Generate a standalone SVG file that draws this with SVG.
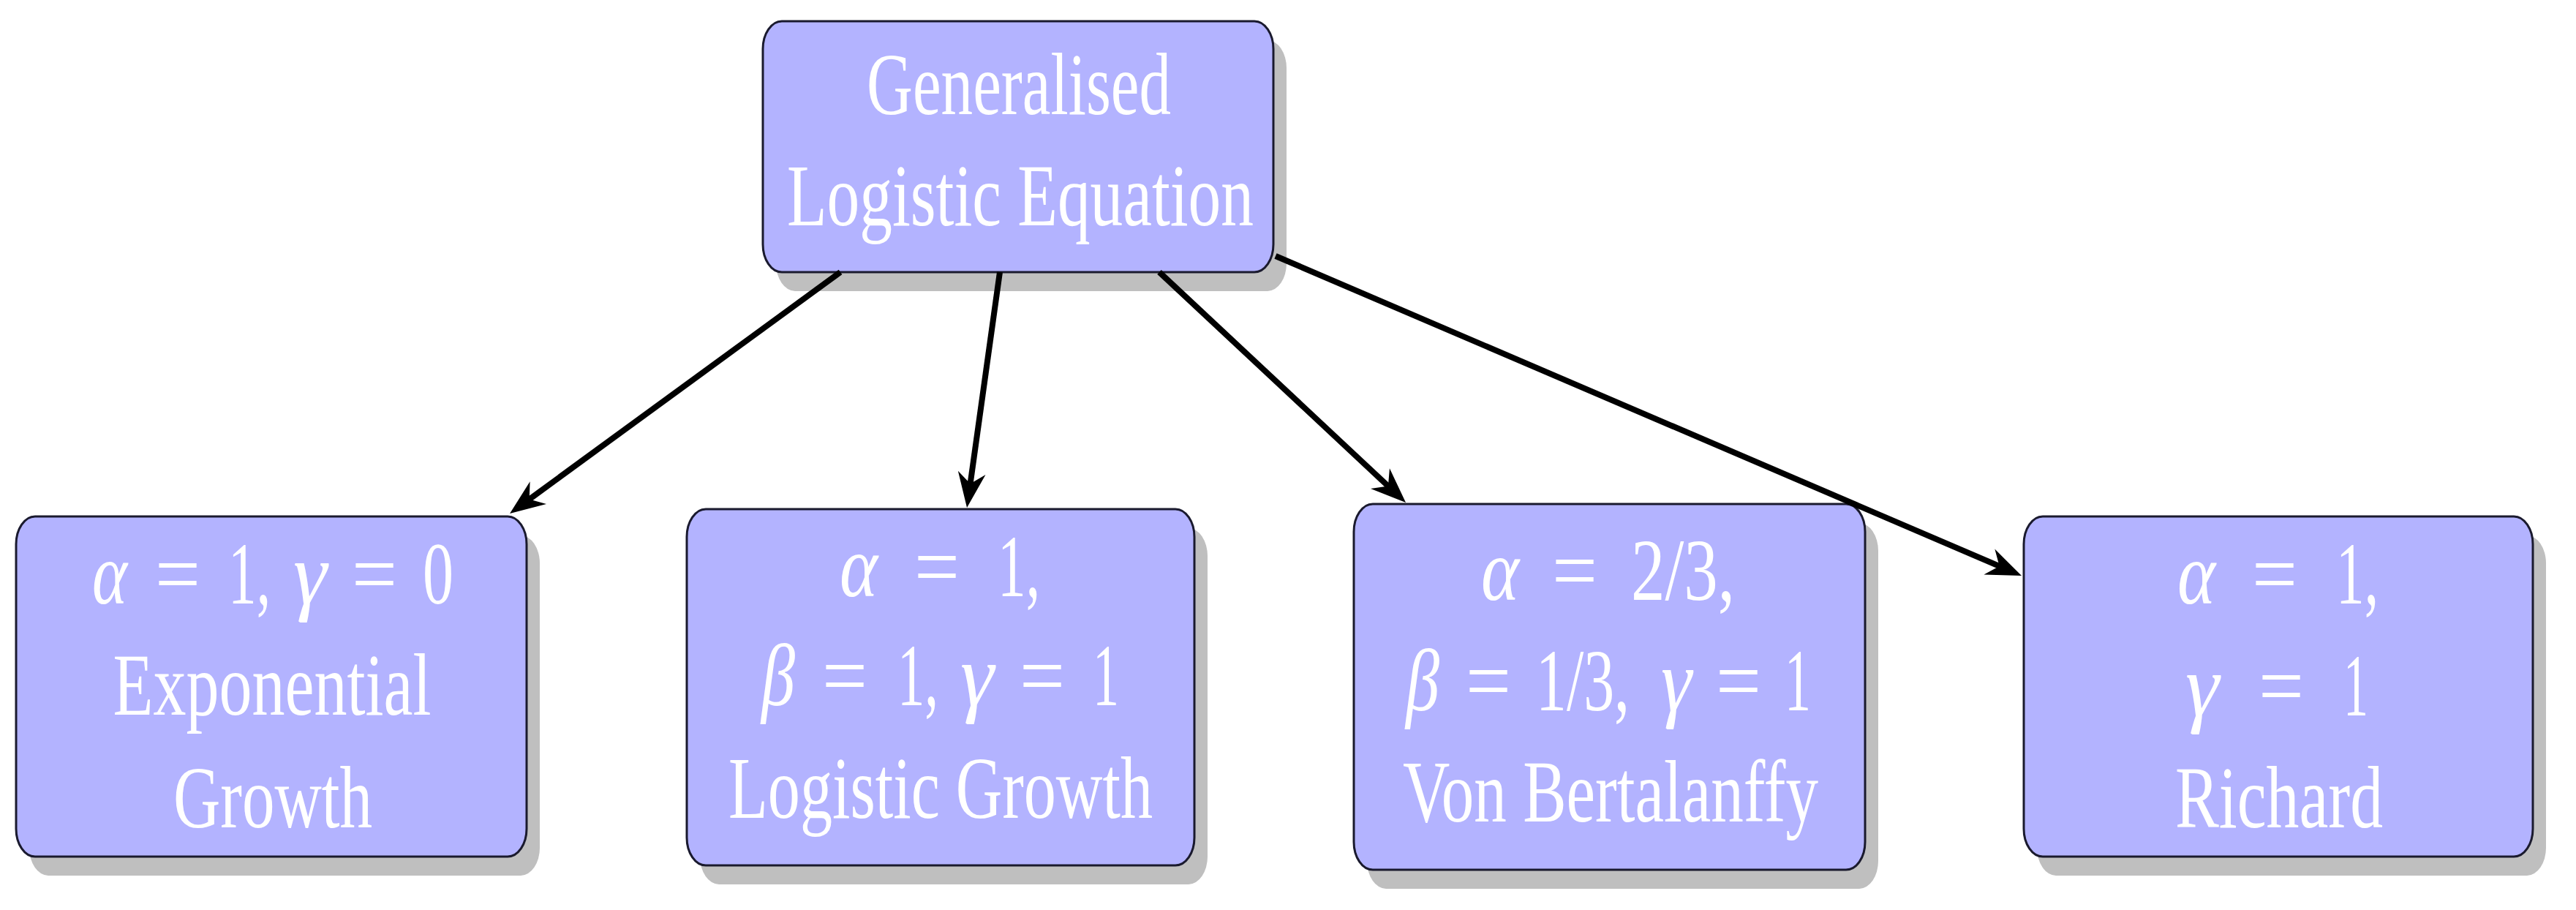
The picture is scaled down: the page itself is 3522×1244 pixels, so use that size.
<svg xmlns="http://www.w3.org/2000/svg" width="3522" height="1244" viewBox="0 0 3522 1244">
<style>
.shadow{fill:#bfbfbf;}
.box{fill:#b3b3ff;stroke:#1a1a2e;stroke-width:3;}
.t{font-family:"Liberation Serif","DejaVu Serif",serif;font-size:120px;fill:#ffffff;text-anchor:middle;}
.i{font-style:italic;}
.conn{stroke:#000;stroke-width:8;fill:none;marker-end:url(#head);}
</style>
<defs>
<marker id="head" viewBox="-70 -22 72 44" refX="-20" refY="0" markerWidth="72" markerHeight="44" markerUnits="userSpaceOnUse" orient="auto">
<path d="M0,0 L-48,-19 L-33,0 L-48,19 Z" fill="#000"/>
</marker>
</defs>
<rect width="3522" height="1244" fill="#ffffff"/>

<g id="node-top">
<rect class="shadow" x="1061" y="55" width="698" height="343" rx="26" ry="38"/>
<rect class="box" x="1043" y="29" width="698" height="343" rx="26" ry="38"/>
<text class="t" x="1393" y="156" textLength="416" lengthAdjust="spacingAndGlyphs">Generalised</text>
<text class="t" x="1395" y="308" textLength="638" lengthAdjust="spacingAndGlyphs">Logistic Equation</text>
</g>

<g id="node-exponential">
<rect class="shadow" x="40" y="732" width="698" height="465" rx="26" ry="38"/>
<rect class="box" x="22" y="706" width="698" height="465" rx="26" ry="38"/>
<text class="t i" x="150" y="825" textLength="48" lengthAdjust="spacingAndGlyphs">α</text>
<text class="t" x="243" y="825" textLength="62" lengthAdjust="spacingAndGlyphs">=</text>
<text class="t" x="341" y="825" textLength="58" lengthAdjust="spacingAndGlyphs">1,</text>
<text class="t i" x="424" y="825" textLength="46" lengthAdjust="spacingAndGlyphs">γ</text>
<text class="t" x="512" y="825" textLength="62" lengthAdjust="spacingAndGlyphs">=</text>
<text class="t" x="599" y="825" textLength="42" lengthAdjust="spacingAndGlyphs">0</text>
<text class="t" x="372" y="977" textLength="435" lengthAdjust="spacingAndGlyphs">Exponential</text>
<text class="t" x="373" y="1131" textLength="272" lengthAdjust="spacingAndGlyphs">Growth</text>
</g>

<g id="node-logistic">
<rect class="shadow" x="957" y="722" width="694" height="487" rx="26" ry="38"/>
<rect class="box" x="939" y="696" width="694" height="487" rx="26" ry="38"/>
<text class="t i" x="1174" y="815" textLength="52" lengthAdjust="spacingAndGlyphs">α</text>
<text class="t" x="1281" y="815" textLength="62" lengthAdjust="spacingAndGlyphs">=</text>
<text class="t" x="1393" y="815" textLength="58" lengthAdjust="spacingAndGlyphs">1,</text>
<text class="t i" x="1064" y="964" textLength="46" lengthAdjust="spacingAndGlyphs">β</text>
<text class="t" x="1155" y="964" textLength="62" lengthAdjust="spacingAndGlyphs">=</text>
<text class="t" x="1255" y="964" textLength="56" lengthAdjust="spacingAndGlyphs">1,</text>
<text class="t i" x="1336" y="964" textLength="46" lengthAdjust="spacingAndGlyphs">γ</text>
<text class="t" x="1425" y="964" textLength="62" lengthAdjust="spacingAndGlyphs">=</text>
<text class="t" x="1512" y="964" textLength="36" lengthAdjust="spacingAndGlyphs">1</text>
<text class="t" x="1286" y="1118" textLength="580" lengthAdjust="spacingAndGlyphs">Logistic Growth</text>
</g>

<g id="node-bertalanffy">
<rect class="shadow" x="1869" y="715" width="699" height="500" rx="26" ry="38"/>
<rect class="box" x="1851" y="689" width="699" height="500" rx="26" ry="38"/>
<text class="t i" x="2051" y="820" textLength="52" lengthAdjust="spacingAndGlyphs">α</text>
<text class="t" x="2153" y="820" textLength="62" lengthAdjust="spacingAndGlyphs">=</text>
<text class="t" x="2301" y="820" textLength="142" lengthAdjust="spacingAndGlyphs">2/3,</text>
<text class="t i" x="1945" y="971" textLength="46" lengthAdjust="spacingAndGlyphs">β</text>
<text class="t" x="2035" y="971" textLength="62" lengthAdjust="spacingAndGlyphs">=</text>
<text class="t" x="2164" y="971" textLength="128" lengthAdjust="spacingAndGlyphs">1/3,</text>
<text class="t i" x="2292" y="971" textLength="42" lengthAdjust="spacingAndGlyphs">γ</text>
<text class="t" x="2377" y="971" textLength="62" lengthAdjust="spacingAndGlyphs">=</text>
<text class="t" x="2458" y="971" textLength="36" lengthAdjust="spacingAndGlyphs">1</text>
<text class="t" x="2202" y="1123" textLength="568" lengthAdjust="spacingAndGlyphs">Von Bertalanffy</text>
</g>

<g id="node-richard">
<rect class="shadow" x="2785" y="732" width="696" height="465" rx="26" ry="38"/>
<rect class="box" x="2767" y="706" width="696" height="465" rx="26" ry="38"/>
<text class="t i" x="3003" y="825" textLength="52" lengthAdjust="spacingAndGlyphs">α</text>
<text class="t" x="3110" y="825" textLength="62" lengthAdjust="spacingAndGlyphs">=</text>
<text class="t" x="3223" y="825" textLength="58" lengthAdjust="spacingAndGlyphs">1,</text>
<text class="t i" x="3011" y="978" textLength="46" lengthAdjust="spacingAndGlyphs">γ</text>
<text class="t" x="3119" y="978" textLength="62" lengthAdjust="spacingAndGlyphs">=</text>
<text class="t" x="3221" y="978" textLength="34" lengthAdjust="spacingAndGlyphs">1</text>
<text class="t" x="3116" y="1131" textLength="284" lengthAdjust="spacingAndGlyphs">Richard</text>
</g>

<g id="connectors">
<path class="conn" d="M1149,372 L713.2,690.2"/>
<path class="conn" d="M1367,372 L1324.8,674.2"/>
<path class="conn" d="M1585,372 L1907.4,673.3"/>
<path class="conn" d="M1744,350 L2745.6,779.1"/>
</g>
</svg>
